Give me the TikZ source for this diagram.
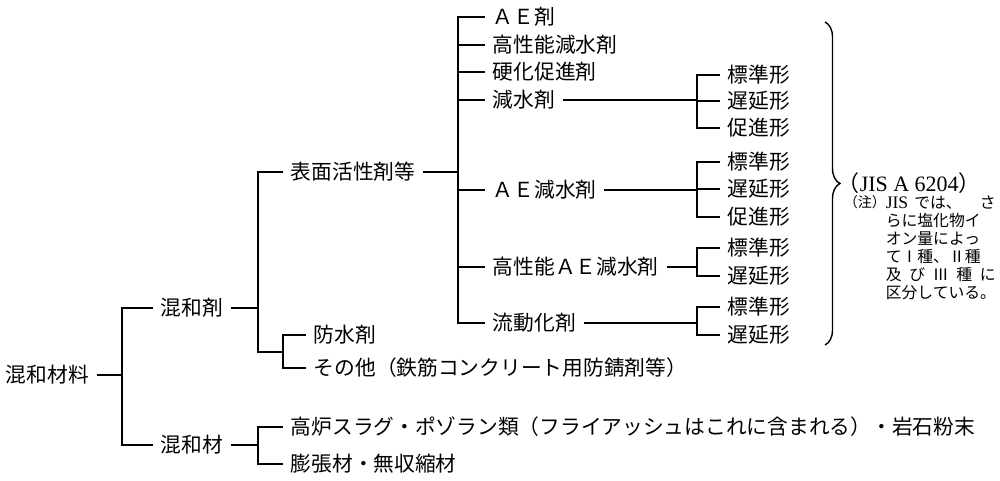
\documentclass[tikz,border=0pt]{standalone}
\usepackage{fontspec}
\setmainfont{Noto Sans CJK JP}
\newfontfamily\latin{Liberation Serif}
\usetikzlibrary{decorations.pathreplacing}

\begin{document}
\begin{tikzpicture}[x=0.02cm,y=-0.02cm,line width=0.9pt,
        lbl/.style={anchor=west,inner sep=4pt,font=\fontsize{11.8}{14}\selectfont}]
                \useasboundingbox (0,0) rectangle (1000,480);

                % first two levels
                \node[lbl] (root) at (-2,375) {混和材料};
                \node[lbl] (zai) at (153,308) {混和剤};
                \node[lbl] (mat) at (153,445) {混和材};
                \coordinate (j0) at (122,375);
                \draw (root) -- (j0);
                \draw (j0) |- (zai.west);
                \draw (j0) |- (mat.west);

                \node[lbl] (hyo) at (283,172) {表面活性剤等};
                \node[lbl] (bou) at (306,335) {防水剤};
                \node[lbl] (sono) at (306,368) {その他（鉄筋コンクリート用防錆剤等）};
                \coordinate (j1) at (258,308);
                \coordinate (j2) at (283,352);
                \draw (zai) -- (j1);
                \draw (j1) |- (hyo.west);
                \draw (j1) |- (j2);
                \draw (j2) |- (bou.west);
                \draw (j2) |- (sono.west);

                \node[lbl] (kou) at (283,427) {高炉スラグ・ポゾラン類（フライアッシュはこれに含まれる）・岩石粉末};
                \node[lbl] (bou2) at (283,464) {膨張材・無収縮材};
                \coordinate (j3) at (258,445);
                \draw (mat) -- (j3);
                \draw (j3) |- (kou.west);
                \draw (j3) |- (bou2.west);

                % surfactants
                \node[lbl] (ae) at (485,17) {ＡＥ剤};
                \node[lbl] (kgen) at (485,45) {高性能減水剤};
                \node[lbl] (kouka) at (485,72) {硬化促進剤};
                \node[lbl] (gen) at (485,100) {減水剤};
                \node[lbl] (aegen) at (485,190) {ＡＥ減水剤};
                \node[lbl] (kaegen) at (485,267) {高性能ＡＥ減水剤};
                \node[lbl] (ryu) at (485,323) {流動化剤};
                \coordinate (j4) at (458,172);
                \draw (hyo) -- (j4);
                \foreach \n in {ae,kgen,kouka,gen,aegen,kaegen,ryu}
                    \draw (j4) |- (\n.west);

                % types
                \coordinate (j5) at (697,100);
                \coordinate (j6) at (697,190);
                \coordinate (j7) at (697,267);
                \coordinate (j8) at (697,323);
                \draw (gen) -- (j5);
                \draw (aegen) -- (j6);
                \draw (kaegen) -- (j7);
                \draw (ryu) -- (j8);
                \foreach \y/\t [count=\i] in {75/標準形,101/遅延形,128/促進形}
                    {\node[lbl] (g\i) at (720,\y) {\t}; \draw (j5) |- (g\i.west);}
                \foreach \y/\t [count=\i] in {162/標準形,189/遅延形,217/促進形}
                    {\node[lbl] (a\i) at (720,\y) {\t}; \draw (j6) |- (a\i.west);}
                \foreach \y/\t [count=\i] in {248/標準形,276/遅延形}
                    {\node[lbl] (k\i) at (720,\y) {\t}; \draw (j7) |- (k\i.west);}
                \foreach \y/\t [count=\i] in {307/標準形,335/遅延形}
                    {\node[lbl] (r\i) at (720,\y) {\t}; \draw (j8) |- (r\i.west);}

                % brace and note
                \coordinate (br1) at (825,22);
                \coordinate (br2) at (825,345);
                \draw[line width=0.8pt,decorate,decoration={brace,amplitude=0.3cm}] (br1) -- (br2);
                \node[anchor=west,inner sep=0pt,font=\fontsize{12.5}{15}\selectfont] (jis) at (837,183) {（{\latin JIS A 6204}）};
                \node[anchor=west,inner sep=0pt,font=\fontsize{8}{10}\selectfont] (chu) at (843,202) {（注）};
                \node[anchor=north west,inner sep=0pt,align=left,font=\fontsize{9}{10.2}\selectfont] (note) at (885,195)
                    {\makebox[2.2cm][s]{{\latin\fontsize{10}{10}\selectfont JIS}\hspace{0.12cm}では、\hfill さ}\\らに塩化物イ\\オン量によっ\\てⅠ種、Ⅱ種\\\makebox[2.2cm][s]{及\hfill び\hfill Ⅲ\hfill 種\hfill に}\\区分している。};
            \end{tikzpicture}
\end{document}
